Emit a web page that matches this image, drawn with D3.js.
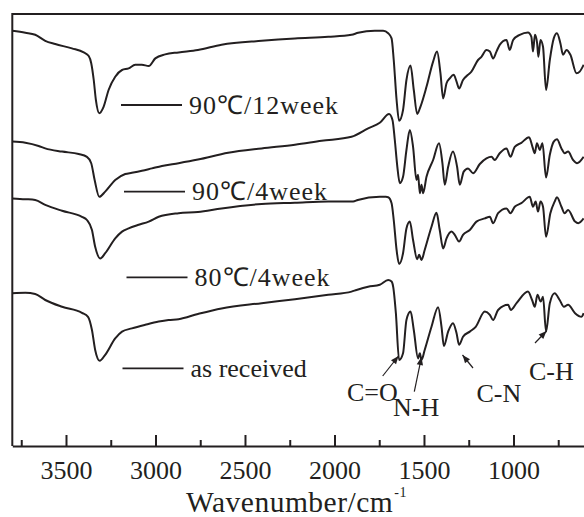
<!DOCTYPE html>
<html>
<head>
<meta charset="utf-8">
<script src="https://cdn.jsdelivr.net/npm/d3@7"></script>
<style>
  body { margin: 0; background: #fff; }
  svg text { font-family: "Liberation Serif", "Times New Roman", serif; fill: #231f20; }
</style>
</head>
<body>
<svg id="chart" width="584" height="517"></svg>
<script>
// FTIR spectra, [wavenumber cm-1, transmittance a.u.]
const spec12w = [[3800,103.8],[3727,103.3],[3672,102.8],[3616,101.3],[3560,100.5],[3467,99.4],[3401,98.4],[3373,97.5],[3359,95.7],[3345,91.5],[3333,86.5],[3314,83.2],[3290,84.8],[3262,89],[3225,92.3],[3187,94],[3150,94.4],[3113,95.3],[3076,95.3],[3038,95],[3001,96.9],[2946,97.9],[2871,98.4],[2763,99],[2631,100.3],[2407,101.3],[2221,101.9],[2035,102.3],[1905,102.8],[1868,103.3],[1775,103.8],[1728,103.8],[1700,103.2],[1681,101.9],[1669,96.5],[1653,86.5],[1639,81.3],[1617,84],[1598,91.5],[1575,95.1],[1557,89],[1538,83],[1520,84.8],[1486,89.8],[1449,96.1],[1427,98.6],[1408,93.2],[1393,86.9],[1374,90.7],[1356,91.9],[1334,92.8],[1318,91.1],[1304,89.4],[1282,91.5],[1254,92.8],[1235,93.6],[1198,96.5],[1179,97.3],[1151,99],[1132,98.6],[1114,96.9],[1095,98.6],[1077,100.3],[1039,101.5],[1021,99],[1002,101.5],[965,102.8],[919,103.4],[900,102.3],[891,98.6],[880,102.8],[868,100.7],[861,97.3],[849,101.5],[835,99.8],[818,89],[797,96.5],[775,101.9],[757,103.2],[738,100.7],[723,97.8],[704,99],[682,97.8],[648,93.2],[630,93.6],[608,95.3]];

const spec4w90 = [[3800,76.1],[3727,75.8],[3653,75],[3616,74.4],[3522,73.6],[3429,73],[3383,72.3],[3359,70.7],[3340,66.5],[3314,62.3],[3281,63.6],[3225,66.5],[3169,68],[3132,68.3],[3076,68.8],[3020,69.4],[2964,70],[2871,70.7],[2763,71.6],[2594,73.3],[2407,74.4],[2221,75.3],[2072,76.3],[1905,77.3],[1812,79.4],[1747,80.8],[1695,83],[1676,81.5],[1663,76.5],[1650,70.3],[1635,65.7],[1617,67.3],[1598,74],[1579,79],[1561,74.8],[1542,66.5],[1533,67.8],[1523,63.2],[1514,65.3],[1505,63.2],[1486,67.3],[1449,71.5],[1416,75.7],[1397,70.7],[1384,65.3],[1365,69.8],[1338,73.6],[1315,69.8],[1300,65.3],[1278,68.6],[1254,69.4],[1226,68.2],[1188,70.5],[1151,71.9],[1123,72.3],[1105,71.5],[1077,73.2],[1039,74.4],[1017,72.3],[993,74.8],[956,75.8],[913,77.2],[894,74.8],[881,73.2],[869,75.7],[853,74],[838,75.7],[818,67.1],[797,72.8],[775,76.1],[757,76.7],[732,74.4],[714,73.2],[695,73.6],[667,71.5],[645,70.7],[608,72.3]];

const spec4w80 = [[3800,61.9],[3727,61.7],[3672,61.5],[3616,60.3],[3522,58.8],[3411,57.3],[3383,56.5],[3355,54],[3337,49.8],[3309,46.9],[3281,48.2],[3225,51.9],[3187,53.6],[3150,54.4],[3094,55.3],[3038,56.1],[2982,57.3],[2871,58.2],[2763,58.5],[2631,59.4],[2407,60.5],[2221,60.8],[2035,61.1],[1896,61.1],[1870,61.5],[1747,62.3],[1713,62.3],[1700,62.2],[1681,60.7],[1669,56.5],[1653,49],[1639,45.5],[1617,48.2],[1598,54.4],[1579,56.1],[1561,51.5],[1538,46.7],[1527,47.8],[1514,46.5],[1496,49],[1458,54.8],[1430,58.3],[1412,54],[1393,49.4],[1374,51.9],[1346,53.6],[1328,52.8],[1304,51.1],[1282,52.8],[1244,54],[1207,56.1],[1160,56.9],[1132,57.3],[1114,55.7],[1086,58.2],[1039,59.4],[1017,58.2],[993,59.8],[956,60.7],[909,62.3],[891,59.8],[876,61.1],[863,58.6],[849,61.1],[835,59.8],[818,52.3],[794,58.2],[770,61.1],[757,62.2],[732,59.8],[714,58.2],[695,59],[656,56.1],[638,55.7],[608,56.9]];

const specReceived = [[3800,38.2],[3727,38.3],[3672,38],[3616,36.5],[3522,34.8],[3411,33.3],[3377,32.3],[3355,29],[3337,24],[3312,21.3],[3281,22.8],[3225,26.9],[3187,28.6],[3132,29.4],[3057,30.3],[2982,31.1],[2927,31.5],[2871,31.7],[2763,33],[2631,34.4],[2407,35.7],[2221,36.7],[2035,37.8],[1905,38.6],[1877,39],[1812,39.8],[1747,40.3],[1700,41.5],[1681,41.1],[1672,39.8],[1657,33.2],[1639,21.5],[1617,23.2],[1598,31.5],[1575,33.6],[1557,29],[1533,21.9],[1523,23.2],[1514,21.5],[1496,24],[1458,29.8],[1421,34.7],[1402,29.8],[1389,25],[1365,28.6],[1338,30.7],[1318,28.2],[1304,25.3],[1282,27.3],[1244,28.6],[1211,29.8],[1160,33.6],[1132,32.8],[1114,31.5],[1086,34],[1030,35.3],[1015,34],[983,35.7],[919,38.6],[896,36.5],[881,34.8],[866,37.8],[848,36.1],[835,37.3],[818,28.6],[797,35.7],[770,38.2],[742,36.5],[718,34.8],[695,35.3],[656,33.2],[620,32.3],[608,33.2]];

const seriesNames = ['90℃/12week', '90℃/4week', '80℃/4week', 'as received'];
const majorTicks = [3500, 3000, 2500, 2000, 1500, 1000];
const minorTicks = [3750, 3250, 2750, 2250, 1750, 1250, 750];
const bandLabels = ['C=O', 'N-H', 'C-N', 'C-H'];

const svg = d3.select('#chart');
const margin = {left: 12.3, top: 14, bottom: 446};
const ink = '#231f20';

const x = d3.scaleLinear().domain([3800, 606]).range([margin.left, 584]);
const y = d3.scaleLinear().domain([0, 108]).range([margin.bottom, margin.top]);

svg.append('defs').append('clipPath').attr('id', 'plotclip')
  .append('rect').attr('x', margin.left).attr('y', margin.top)
  .attr('width', 584 - margin.left).attr('height', margin.bottom - margin.top);

// spectra
const line = d3.line().x(d => x(d[0])).y(d => y(d[1])).curve(d3.curveMonotoneX);
svg.append('g').attr('clip-path', 'url(#plotclip)')
  .selectAll('path').data([spec12w, spec4w90, spec4w80, specReceived]).join('path')
  .attr('d', line)
  .attr('fill', 'none').attr('stroke', ink).attr('stroke-width', 2)
  .attr('stroke-linejoin', 'round');

// frame
svg.append('line').attr('x1', margin.left).attr('x2', 584).attr('y1', margin.top).attr('y2', margin.top)
  .attr('stroke', ink).attr('stroke-width', 2);
svg.append('line').attr('x1', margin.left).attr('x2', margin.left).attr('y1', margin.top - 1).attr('y2', margin.bottom)
  .attr('stroke', ink).attr('stroke-width', 2);

// x axis (ticks inside)
const xAxis = d3.axisBottom(x).tickValues(majorTicks).tickFormat(d3.format('d'))
  .tickSizeInner(-11).tickSizeOuter(0).tickPadding(15);
const gx = svg.append('g').attr('transform', `translate(0,${margin.bottom})`).call(xAxis);
gx.attr('font-family', null);
gx.select('.domain').attr('stroke', ink).attr('stroke-width', 2);
gx.selectAll('.tick line').attr('stroke', ink).attr('stroke-width', 2);
gx.selectAll('.tick text').attr('font-size', 26).attr('fill', ink);

const gm = svg.append('g').attr('transform', `translate(0,${margin.bottom})`)
  .call(d3.axisBottom(x).tickValues(minorTicks).tickSizeInner(-6).tickSizeOuter(0).tickFormat(''));
gm.select('.domain').remove();
gm.selectAll('.tick line').attr('stroke', ink).attr('stroke-width', 2);

// axis title
const title = svg.append('text').attr('x', 186).attr('y', 512).attr('font-size', 29.5)
  .attr('letter-spacing', 0.5);
title.append('tspan').text('Wavenumber/cm');
title.append('tspan').attr('font-size', 14).attr('dy', -15).attr('dx', 1).text('-1');

// series labels placed beside each trace
const labelY = [105, 191.7, 277.3, 368.3];
const labelX = [121, 124, 126.5, 122.5];
seriesNames.forEach((name, i) => {
  svg.append('line').attr('x1', labelX[i]).attr('x2', labelX[i] + 61)
    .attr('y1', labelY[i]).attr('y2', labelY[i]).attr('stroke', ink).attr('stroke-width', 1.8);
  svg.append('text').attr('x', labelX[i] + 68).attr('y', labelY[i] + 8.5)
    .attr('font-size', 26).attr('letter-spacing', name.includes('℃') ? 1 : 0).text(name);
});

// band annotations with arrows
const arrows = [
  {tail: [382.7, 376], head: [398.5, 356], tx: 347, ty: 401},
  {tail: [414.3, 391.7], head: [421.5, 357], tx: 393, ty: 416},
  {tail: [473, 368], head: [462.5, 355], tx: 476.5, ty: 402},
  {tail: [535, 343], head: [546.5, 331], tx: 529, ty: 380}
];
const head = (a) => {
  const dx = a.head[0] - a.tail[0], dy = a.head[1] - a.tail[1];
  const len = Math.hypot(dx, dy), ux = dx / len, uy = dy / len;
  const L = 8, W = 3.2;
  const bx = a.head[0] - ux * L, by = a.head[1] - uy * L;
  return `M${a.head[0]},${a.head[1]}L${bx - uy * W},${by + ux * W}L${bx + uy * W},${by - ux * W}Z`;
};
arrows.forEach((a, i) => {
  svg.append('line').attr('x1', a.tail[0]).attr('y1', a.tail[1])
    .attr('x2', a.head[0]).attr('y2', a.head[1]).attr('stroke', ink).attr('stroke-width', 1.2);
  svg.append('path').attr('d', head(a)).attr('fill', ink);
  svg.append('text').attr('x', a.tx).attr('y', a.ty).attr('font-size', 26).text(bandLabels[i]);
});
</script>
</body>
</html>
